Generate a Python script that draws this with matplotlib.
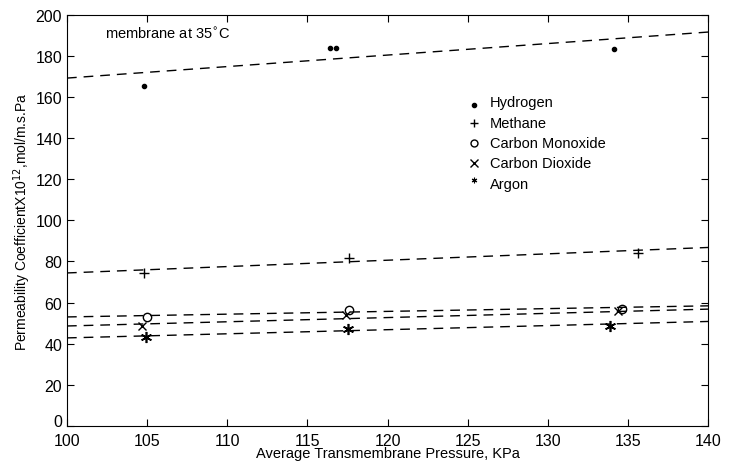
import numpy as np
from matplotlib import pyplot as plt

plt.rc('font', family=['Liberation Sans', 'DejaVu Sans'], size=10.5)

# measured points
gases = ['Hydrogen', 'Methane', 'Carbon Monoxide', 'Carbon Dioxide', 'Argon']
p_h2 = [104.8, 116.4, 116.8, 134.1]
k_h2 = [165.2, 184.0, 184.0, 183.5]
p_ch4 = [104.8, 117.6, 135.6]
k_ch4 = [74.5, 81.5, 84.2]
p_co = [105.0, 117.6, 134.6]
k_co = [53.0, 56.4, 57.0]
p_co2 = [104.7, 117.4, 134.4]
k_co2 = [48.6, 54.0, 56.0]
p_ar = [104.9, 117.5, 133.9]
k_ar = [43.0, 47.0, 48.6]

# fitted lines, read at both ends of the axis
fit_p = [100, 140]
fit_h2 = [169.2, 191.6]
fit_ch4 = [74.4, 86.8]
fit_co = [53.0, 58.4]
fit_co2 = [48.6, 56.8]
fit_ar = [42.8, 50.8]

fig = plt.figure(figsize=(7.32, 4.64), dpi=100)
ax = fig.add_axes([0.0915, 0.08, 0.876, 0.886])

for fit in [fit_h2, fit_ch4, fit_co, fit_co2, fit_ar]:
    ax.plot(fit_p, fit, color='k', lw=1.0, ls=(0, (7, 5)))

ax.plot(p_h2, k_h2, 'o', color='k', ms=3, ls='none')
ax.plot(p_ch4, k_ch4, '+', color='k', ms=7, mew=1, ls='none')
ax.plot(p_co, k_co, 'o', mfc='none', mec='k', ms=6, mew=1, ls='none')
ax.plot(p_co2, k_co2, 'x', color='k', ms=6, mew=1, ls='none')
ax.plot(p_ar, k_ar, marker=(6, 2, 0), color='k', ms=8, mew=1.2, ls='none')

# hand made key, as in the original
leg_marks = ['o', '+', 'o', 'x', (6, 2, 0)]
leg_y = [0.788, 0.736, 0.687, 0.639, 0.588]
for name, m, yy in zip(gases, leg_marks, leg_y):
    if name == 'Hydrogen':
        ax.plot(0.635, yy - 0.008, marker=m, color='k', ms=3, transform=ax.transAxes)
    elif name == 'Carbon Monoxide':
        ax.plot(0.635, yy, marker=m, mfc='none', mec='k', ms=5, transform=ax.transAxes)
    elif name == 'Argon':
        ax.plot(0.635, yy + 0.01, marker=m, color='k', ms=4, mew=0.8, transform=ax.transAxes)
    else:
        ax.plot(0.635, yy, marker=m, color='k', ms=6, mew=1, transform=ax.transAxes)
    ax.text(0.66, yy, name, transform=ax.transAxes, va='center', ha='left', fontsize=10.5)

ax.text(0.06, 0.955, 'membrane at 35$^{\\circ}$C', transform=ax.transAxes,
        va='center', ha='left', fontsize=10.5)

ax.set_xlim(100, 140)
ax.set_ylim(0, 200)
ax.set_xticks(np.arange(100, 141, 5))
ax.set_yticks(np.arange(0, 201, 20))
ax.tick_params(direction='in', top=True, right=True, length=5, labelsize=11.5)
ax.tick_params(axis='x', pad=5)
ax.get_yticklabels()[0].set_va('baseline')  # the "0" sits just above "100"
ax.set_xlabel('Average Transmembrane Pressure, KPa', fontsize=10.5, labelpad=-1)
ax.set_ylabel('Permeability CoefficientX10$^{12}$,mol/m.s.Pa', fontsize=10, labelpad=2)

plt.savefig('out.png', dpi=100)
